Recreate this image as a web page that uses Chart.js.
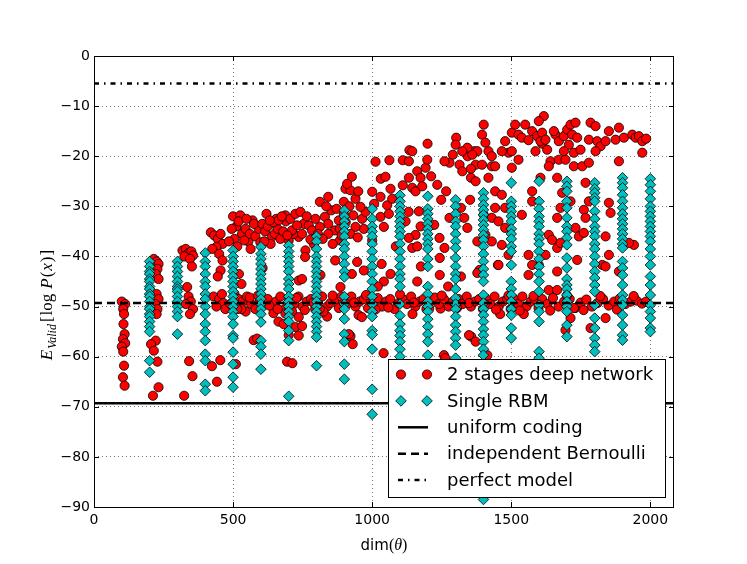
<!DOCTYPE html>
<html>
<head>
<meta charset="utf-8">
<script src="https://cdn.jsdelivr.net/npm/chart.js@4.4.0/dist/chart.umd.min.js"></script>
<style>
  html, body { margin: 0; padding: 0; background: #fff; }
  #wrap { position: relative; width: 747px; height: 564px; }
</style>
</head>
<body>
<div id="wrap"><canvas id="grafico"></canvas></div>
<script>
// axis ticks
const xTicks = [0, 500, 1000, 1500, 2000];
const xMax = 2085;
const yTicks = [-90, -80, -70, -60, -50, -40, -30, -20, -10, 0];

// reference levels
const perfectLevel = -5.5;
const bernoulliLevel = -49.3;
const uniformLevel = -69.3;

// Single RBM: one column of runs per size
const rbmDims = [200, 300, 400, 500, 600, 700, 800, 900, 1000, 1100, 1200, 1300, 1400, 1500, 1600, 1700, 1800, 1900, 2000];
const rbmScores = [
  [-41, -42, -43, -43.5, -44.5, -45, -46, -46.5, -47.5, -48, -49, -50, -50.5, -51.5, -52, -53, -54, -55, -60.8, -63.1],
  [-41, -42, -43, -44, -45, -46, -46.5, -47, -48, -49, -50, -51, -52, -55.5],
  [-39.3, -41, -42, -43.5, -45, -46, -47.5, -48.5, -50, -51.5, -53.5, -55, -56.8, -59.5, -60.8, -65.5, -66.8],
  [-38.8, -40, -41, -42, -43, -44, -45, -46, -47, -48, -49, -50, -51, -52, -53.5, -55.8, -56.3, -59.1, -61.5, -64.1, -66.1],
  [-38.1, -39.5, -40.5, -41.5, -42.5, -43.5, -44.5, -45.5, -46.5, -47.5, -48.5, -49.5, -50.5, -51.5, -53.1, -56.8, -58, -59.5, -62.5],
  [-37.8, -39, -40, -41, -42, -43, -44.5, -45.5, -46.5, -48, -49, -50, -51, -52, -53, -54.8, -56.8, -67.9],
  [-36, -37, -38.5, -40, -41, -42, -43, -44, -45, -46, -47, -48, -49, -50, -51, -52, -53, -54, -55, -56.1, -61.8],
  [-30.8, -32, -33, -34, -35, -36, -37.5, -38.5, -40, -41.5, -43, -44.1, -48, -49.5, -50.5, -52.5, -55.5, -57, -61.5, -64.5],
  [-30.5, -32.5, -34, -35, -36, -37.5, -39, -40.5, -42, -43.5, -45, -46.5, -48, -49.5, -51, -52, -54.8, -55.6, -58.5, -66.5, -71.5],
  [-27.8, -29, -30, -31, -32, -33, -34, -35, -36, -37.5, -39, -40.5, -42, -43.5, -44.5, -46, -49.5, -51.8, -53.5, -54.8, -55.8, -57, -58.5, -60],
  [-28, -30.5, -31.5, -32.5, -33.5, -34.5, -35.5, -36.5, -37.5, -38.5, -40.5, -42, -46, -47.5, -49, -50, -51, -52.5, -54, -55.5, -57, -59.7],
  [-28.7, -30, -31.5, -33, -34, -35.5, -37, -38.3, -40.3, -42, -43.5, -44.5, -46.5, -48.3, -49.5, -50.5, -52, -53.7, -55, -56.3, -57.7, -60.3],
  [-27.3, -28.5, -29.7, -30.7, -31.7, -32.7, -33.7, -34.7, -35.7, -36.7, -38, -39.5, -41, -42.5, -43.7, -45, -47.7, -49.3, -50.5, -51.7, -53, -54.5, -55.7, -57, -58.5, -59.7, -88.5],
  [-25.3, -29, -30, -31, -32, -33, -34.5, -35.5, -36.5, -38, -39, -41.7, -45, -46.5, -47.7, -49, -50.5, -51.7, -54.3, -56.3],
  [-25, -29, -30.5, -32, -33, -34, -35.5, -36.5, -37.5, -39, -40.5, -42, -43.5, -45, -47, -49.7, -51, -53, -59, -60.3],
  [-25, -26, -27, -29, -30.3, -32.3, -34, -35, -36.3, -37.7, -40.3, -42.3, -44.5, -45.7, -46.5, -47.7, -49, -50, -51, -53.7, -56],
  [-25.3, -26.5, -27.3, -28.3, -29, -31, -32.5, -34, -35, -36, -37.5, -38.5, -40, -41.5, -43, -44.3, -45.7, -47, -49.7, -52.3, -54.3, -56.3, -57.7, -59],
  [-24.3, -25.3, -26.3, -27.7, -29, -30.3, -31.5, -32.5, -33.5, -34.5, -35.5, -36.5, -37.5, -38.3, -41, -42.3, -43.7, -45.7, -47.7, -48.7, -49.7, -51.7, -53.7, -55.7, -56.7],
  [-24.5, -25.7, -27, -28.5, -30, -31, -32, -33, -34, -35, -36, -37, -38.5, -40, -41.7, -44, -45.7, -47.7, -49.7, -51, -52.3, -54.3, -55]
];

// 2 stages deep network: [dim, score] per run
const deepRuns = [
  [100,-49],[112,-49.5],[105,-50.5],[108,-51.5],[106,-53.5],[110,-55.5],[104,-56.5],[112,-57.3],[100,-58],[105,-59],[108,-61.8],[104,-64.1],[110,-65.8],
  [215,-40.5],[225,-41],[232,-41.5],[228,-42.5],[222,-43.5],[232,-44.5],[225,-47.5],[232,-48.5],[220,-49.5],[228,-50.5],[225,-51.5],[222,-56.8],[205,-57.5],[215,-58.8],[228,-61],[232,-66.1],[212,-67.8],
  [318,-38.8],[330,-38.5],[340,-39.3],[350,-39],[356,-39.8],[325,-40],[345,-40.5],[352,-42],[335,-46.1],[340,-48],[348,-49],[330,-49.5],[356,-50.5],[345,-51.5],[342,-60.9],[354,-63.9],[324,-67.8],
  [420,-35.2],[432,-35.8],[445,-36.5],[455,-35.5],[462,-37.5],[440,-38.1],[425,-38.5],[450,-39.5],[462,-40.8],[455,-42.8],[445,-44],[430,-48],[450,-48.5],[465,-49.3],[440,-50],[472,-50.5],[454,-60.7],[424,-61.9],[442,-65],
  [500,-32],[526,-31.8],[512,-34],[520,-33],[532,-35.5],[545,-34.5],[555,-37],[505,-36.5],[515,-38],[560,-35.5],[570,-32.8],[580,-36],[592,-34.5],[575,-33.5],[540,-36.8],[521,-43.5],[530,-45.5],
  [505,-47.5],[520,-48.5],[535,-49],[550,-48],[565,-49.5],[580,-50.5],[595,-49],[545,-51],[530,-50.5],[510,-61.5],[574,-56.7],[586,-56.4],
  [605,-33.5],[615,-35],[625,-34],[640,-36],[650,-35.5],[660,-34.5],[670,-36.5],[680,-35],[635,-37.5],[655,-32.5],[620,-31.5],[645,-33.2],[690,-33],[606,-42.3],
  [610,-49],[625,-48.5],[640,-50],[655,-49],[670,-48],[685,-50.5],[645,-51.3],[663,-53],[688,-51.4],[694,-61],
  [664,-32.8],[688,-31.8],[706,-32.5],[724,-31.5],[742,-31.1],[754,-33.5],[772,-33.8],[784,-34.8],[700,-36.8],[736,-36.1],[760,-38.8],[718,-35.5],[712,-34.8],[790,-37.5],[759,-40.1],[736,-44.8],[748,-44.5],
  [705,-48.5],[720,-49.5],[735,-48],[750,-50],[765,-49],[780,-48.5],[795,-50.5],[712,-51],[736,-52.1],[724,-54.1],[700,-55.7],[736,-55.8],[748,-53.9],[713,-61.3],[682,-53.5],
  [812,-29.1],[842,-28.1],[853,-30.8],[830,-32.1],[842,-33.5],[880,-32.8],[898,-31.5],[812,-34.1],[866,-34.8],[884,-34.5],[842,-35.5],[904,-26.5],[898,-29.1],[814,-43.7],[867,-40.8],[884,-36.8],[886,-46.1],
  [805,-49],[820,-48],[838,-50],[850,-49.3],[868,-48.5],[880,-50.3],[895,-49],[838,-52],[825,-51],
  [927,-24.1],[922,-26.8],[910,-25.5],[940,-28.5],[964,-32.5],[970,-34.5],[940,-34.1],[976,-31.1],[958,-30.1],[922,-35.5],[950,-27],[927,-43.5],[946,-41.1],[970,-42.8],
  [910,-49.5],[925,-48],[940,-50],[955,-49],[970,-48.5],[985,-50.3],[995,-49],[922,-55.9],[930,-57.5],[916,-55.5],[951,-51.7],[963,-52.1],
  [1012,-21.1],[1062,-20.8],[1031,-24.5],[1048,-24.1],[1000,-27.1],[1066,-26.5],[1110,-25.8],[1030,-28.1],[1007,-29.5],[1054,-29.8],[1072,-28.5],[1030,-32.1],[1060,-31.5],[1042,-34.1],[1131,-31.1],
  [1034,-41.5],[1066,-43.5],[1000,-36.8],[1042,-45],[1020,-46],[1085,-38],[1005,-49],[1020,-48.3],[1035,-50],[1050,-49],[1065,-48.5],[1080,-50.5],[1095,-49.3],[1041,-59.3],
  [1134,-18.8],[1110,-20.8],[1144,-19],[1132,-21],[1162,-23],[1132,-24.3],[1174,-24.3],[1192,-22.3],[1144,-26.3],[1198,-20.7],[1156,-27],[1180,-26],[1199,-17.5],
  [1168,-31],[1120,-33],[1156,-35.7],[1132,-36.3],[1144,-38.3],[1174,-34],[1162,-38],[1175,-42],[1162,-45],
  [1110,-48.5],[1125,-49.5],[1140,-48],[1155,-50],[1170,-49],[1185,-48.5],[1195,-50.5],[1145,-51.5],
  [1302,-16.3],[1300,-17.7],[1290,-19.7],[1278,-21.3],[1260,-21],[1314,-21.7],[1324,-23],[1234,-25.7],[1266,-27],[1355,-24.3],[1343,-20],[1367,-19],[1212,-24],
  [1223,-33.7],[1278,-32.3],[1331,-32.3],[1319,-30.3],[1248,-28.7],[1242,-36.3],[1243,-40.3],[1260,-38.3],[1243,-43.7],[1273,-46],[1319,-44],[1246,-50.4],
  [1210,-49],[1225,-48.2],[1240,-49.5],[1258,-48.5],[1275,-50],[1290,-49],[1258,-59.7],[1263,-60.3],
  [1401,-13.7],[1395,-15.7],[1407,-17.3],[1378,-19],[1360,-19.7],[1372,-21.7],[1395,-21.7],[1418,-19],[1430,-20],[1430,-22],[1355,-22.5],[1342,-18.3],[1324,-19],
  [1372,-25],[1418,-24.3],[1352,-28.7],[1401,-31.7],[1430,-32.3],[1342,-34.3],[1378,-37],[1407,-35.7],[1386,-42.7],[1378,-43.3],[1452,-41.7],[1356,-56],[1372,-57],[1348,-55.7],
  [1310,-48.5],[1325,-49.5],[1340,-48],[1355,-50],[1370,-49],[1385,-48.5],[1398,-50.5],[1414,-59.7],
  [1442,-22],[1478,-17],[1502,-15.3],[1514,-13.7],[1526,-15.7],[1490,-19.3],[1466,-19],[1442,-27],[1466,-27.7],[1478,-30.3],[1442,-30.3],[1454,-33],[1478,-34.3],[1466,-37.7],[1430,-37],[1490,-39.7],[1454,-41.7],
  [1410,-48.5],[1425,-49.5],[1440,-48],[1455,-50],[1470,-49],[1485,-48.5],[1498,-50.5],[1460,-51.5],
  [1550,-13.7],[1575,-15],[1593,-16],[1611,-15.3],[1538,-16.3],[1562,-16.8],[1502,-19],[1526,-20.7],[1611,-17.5],[1587,-19],[1502,-22.3],
  [1538,-31.7],[1575,-27],[1575,-29],[1599,-41.7],[1562,-39.7],[1575,-41.7],[1562,-43.7],
  [1510,-48.5],[1525,-49.5],[1540,-48],[1555,-50],[1570,-49],[1585,-48.5],[1598,-50.3],[1545,-51.5],
  [1617,-12],[1599,-13],[1605,-17],[1629,-18.7],[1641,-21],[1659,-15.7],[1653,-15],[1671,-17],[1689,-16],[1701,-14.7],[1713,-13.7],[1731,-13.3],[1719,-15.7],[1737,-16.3],
  [1707,-17.7],[1725,-19.3],[1689,-19],[1671,-20.7],[1725,-22],[1755,-22],[1695,-20.7],[1779,-21.3],[1785,-13.3],[1803,-14],[1779,-16.7],[1809,-17],[1821,-18],[1839,-17],
  [1851,-15],[1875,-16.7],[1887,-14.3],[1905,-16.3],[1935,-15.7],[1947,-16.3],[1959,-16],[1971,-17],[1971,-19.3],[1887,-21],[1803,-19],[1749,-18.7],[1623,-16.7],[1635,-22],[1985,-16.5],
  [1605,-24.3],[1665,-24.3],[1683,-27.3],[1713,-29],[1767,-25.3],[1779,-29],[1761,-30.7],[1677,-30.3],[1665,-32.3],[1767,-32.3],[1851,-29.3],[1857,-31.3],[1731,-34.3],[1743,-36],[1761,-35.3],
  [1839,-36],[1635,-35.7],[1647,-36.7],[1665,-38.3],[1623,-39.7],[1737,-40.7],[1677,-37.3],[1851,-39.7],[1827,-41.7],[1839,-42],[1665,-43],[1887,-43],[1635,-46.7],[1665,-46.7],[1941,-37.7],[1923,-37.3],
  [1611,-48.5],[1630,-49.5],[1650,-48.3],[1670,-50],[1690,-49],[1710,-48.5],[1730,-50.3],[1750,-49.2],[1770,-48.6],[1790,-50],[1810,-49.3],[1830,-48.5],[1850,-49.8],[1870,-49],[1890,-48.4],
  [1910,-49.5],[1930,-49],[1950,-48.8],[1970,-49.4],[1985,-49],[1713,-52.3],[1725,-50.3],[1839,-52.3],[1695,-54.7],[1785,-54.3],
  // denser upper wall (500-950) and the band along the Bernoulli level
  [485,-37],[495,-34.5],[548,-32.5],[563,-38.5],[598,-37.2],[612,-37],[632,-32.8],[675,-32],[695,-35.8],[730,-33.8],[748,-35.5],[765,-32],
  [778,-36.6],[796,-32.5],[805,-35.5],[822,-36.5],[835,-30],[858,-37.5],[872,-30.5],[890,-35.8],[905,-33.2],[918,-30],[932,-31.8],[948,-36.2],
  [460,-47.5],[490,-49.5],[515,-50.5],[560,-48.2],[590,-47.8],[630,-49.8],[660,-50.5],[700,-49],[728,-48.3],[758,-50.7],[788,-49.2],[812,-50.5],
  [858,-47.8],[890,-48],[935,-49.2],[978,-47.7],[1012,-50.6],[1058,-50.2],[1100,-47.6],[1150,-49.2],[1205,-50.4],[1250,-47.8],[1305,-50.3],[1348,-49.3],
  [1405,-49.5],[1445,-50.6],[1490,-47.8],[1530,-50.8],[1580,-47.9],[1640,-50.8],[1700,-47.8],[1760,-50.7],[1820,-47.9],[1880,-50.6],[1940,-47.9]
];

const rbmPoints = rbmDims.flatMap((d, i) => rbmScores[i].map(v => ({ x: d, y: v })));
const deepPoints = deepRuns.map(([d, v]) => ({ x: d, y: v }));
const levelLine = lvl => [{ x: 0, y: lvl }, { x: xMax, y: lvl }];

const sans = '"DejaVu Sans", sans-serif';
const serif = '"Liberation Serif", "DejaVu Serif", serif';

function drawRun(ctx, parts, cx, baseY) {
  let total = 0;
  parts.forEach(p => { ctx.font = p.f; total += ctx.measureText(p.t).width + (p.gap || 0); });
  let x = cx - total / 2;
  parts.forEach(p => {
    ctx.font = p.f;
    ctx.fillText(p.t, x, baseY + (p.dy || 0));
    x += ctx.measureText(p.t).width + (p.gap || 0);
  });
}

// frame, inward tick marks, axis titles and the boxed legend (matplotlib look)
const decorPlugin = {
  id: 'decor',
  afterDraw(chart) {
    const { ctx, chartArea: a, scales } = chart;
    ctx.save();
    ctx.strokeStyle = '#000';
    ctx.lineWidth = 1;
    ctx.strokeRect(a.left + 0.5, a.top + 0.5, a.right - a.left - 1, a.bottom - a.top);
    ctx.beginPath();
    xTicks.forEach(v => {
      const px = Math.round(scales.x.getPixelForValue(v)) + 0.5;
      ctx.moveTo(px, a.bottom); ctx.lineTo(px, a.bottom - 5);
      ctx.moveTo(px, a.top); ctx.lineTo(px, a.top + 5);
    });
    yTicks.forEach(v => {
      const py = Math.round(scales.y.getPixelForValue(v)) + 0.5;
      ctx.moveTo(a.left, py); ctx.lineTo(a.left + 5, py);
      ctx.moveTo(a.right, py); ctx.lineTo(a.right - 5, py);
    });
    ctx.stroke();

    // x title: dim(θ)
    ctx.fillStyle = '#000';
    ctx.textBaseline = 'alphabetic';
    drawRun(ctx, [
      { t: 'dim', f: '15px ' + sans },
      { t: '(', f: '16px ' + serif },
      { t: 'θ', f: 'italic 16px ' + serif },
      { t: ')', f: '16px ' + serif }
    ], (a.left + a.right) / 2, 550);

    // y title: E_Valid[log P(x)]
    ctx.save();
    ctx.translate(52, 305);
    ctx.rotate(-Math.PI / 2);
    drawRun(ctx, [
      { t: 'E', f: 'italic 17px ' + serif, gap: 1 },
      { t: 'Valid', f: 'italic 12px ' + serif, dy: 4, gap: 2 },
      { t: '[', f: '17px ' + serif, gap: 1 },
      { t: 'log', f: '17px ' + serif, gap: 5 },
      { t: 'P', f: 'italic 17px ' + serif, gap: 1 },
      { t: '(', f: '17px ' + serif, gap: 1 },
      { t: 'x', f: 'italic 17px ' + serif, gap: 1 },
      { t: ')', f: '17px ' + serif, gap: 1 },
      { t: ']', f: '17px ' + serif }
    ], 0, 0);
    ctx.restore();

    // legend
    const box = { left: 388, top: 359, right: 665, bottom: 497 };
    ctx.fillStyle = '#fff';
    ctx.fillRect(box.left, box.top, box.right - box.left, box.bottom - box.top);
    ctx.strokeStyle = '#000';
    ctx.lineWidth = 1;
    ctx.strokeRect(box.left + 0.5, box.top + 0.5, box.right - box.left, box.bottom - box.top);
    [4, 3, 2, 1, 0].forEach((di, row) => {
      const ds = chart.data.datasets[di];
      const cy = 374.5 + row * 26.4;
      ctx.save();
      if (ds.showLine) {
        ctx.strokeStyle = '#000';
        ctx.lineWidth = ds.borderWidth;
        ctx.setLineDash(ds.borderDash || []);
        ctx.beginPath();
        ctx.moveTo(398, cy); ctx.lineTo(428, cy);
        ctx.stroke();
      } else {
        ctx.fillStyle = ds.backgroundColor;
        ctx.strokeStyle = ds.borderColor;
        ctx.lineWidth = ds.borderWidth;
        [401, 427].forEach(mx => Chart.helpers.drawPoint(ctx, {
          pointStyle: ds.pointStyle, radius: ds.pointRadius, borderWidth: ds.borderWidth
        }, mx, cy));
      }
      ctx.restore();
      ctx.fillStyle = '#000';
      ctx.font = '18px ' + sans;
      ctx.textBaseline = 'middle';
      ctx.fillText(ds.label, 447, cy + 1);
    });
    ctx.restore();
  }
};

const lineStyle = { showLine: true, pointRadius: 0, borderColor: '#000', borderWidth: 2.5, fill: false, order: 0 };

const ctx = document.getElementById('grafico').getContext('2d');
new Chart(ctx, {
  type: 'scatter',
  data: {
    datasets: [
      { ...lineStyle, label: 'perfect model', data: levelLine(perfectLevel), borderDash: [5, 5, 1.5, 5] },
      { ...lineStyle, label: 'independent Bernoulli', data: levelLine(bernoulliLevel), borderDash: [8, 5] },
      { ...lineStyle, label: 'uniform coding', data: levelLine(uniformLevel), borderDash: [] },
      {
        label: 'Single RBM', data: rbmPoints, pointStyle: 'rectRot', pointRadius: 5.3,
        backgroundColor: '#00bfbf', borderColor: '#000', borderWidth: 0.8, order: 1
      },
      {
        label: '2 stages deep network', data: deepPoints, pointStyle: 'circle', pointRadius: 4.6,
        backgroundColor: '#ff0000', borderColor: '#000', borderWidth: 0.8, order: 2
      }
    ]
  },
  options: {
    responsive: true,
    maintainAspectRatio: false,
    animation: false,
    layout: { padding: { top: 56, right: 73, left: 0, bottom: 0 } },
    plugins: { legend: { display: false }, tooltip: { enabled: false } },
    scales: {
      x: {
        type: 'linear', min: 0, max: xMax,
        afterBuildTicks: s => { s.ticks = xTicks.map(v => ({ value: v })); },
        afterFit: s => { s.height = 57; },
        ticks: {
          color: '#000', font: { family: 'DejaVu Sans', size: 14 }, padding: 5, maxRotation: 0,
          callback: v => String(v)
        },
        grid: { color: 'rgba(0,0,0,0.75)', lineWidth: 0.7, drawTicks: false },
        border: { display: false, dash: [1, 3] }
      },
      y: {
        min: -90, max: 0,
        afterBuildTicks: s => { s.ticks = yTicks.map(v => ({ value: v })); },
        afterFit: s => { s.width = 94; },
        ticks: {
          color: '#000', font: { family: 'DejaVu Sans', size: 14 }, padding: 4,
          callback: v => v < 0 ? '\u2212' + Math.abs(v) : String(v)
        },
        grid: { color: 'rgba(0,0,0,0.75)', lineWidth: 0.7, drawTicks: false },
        border: { display: false, dash: [1, 3] }
      }
    }
  },
  plugins: [decorPlugin]
});
</script>
</body>
</html>
